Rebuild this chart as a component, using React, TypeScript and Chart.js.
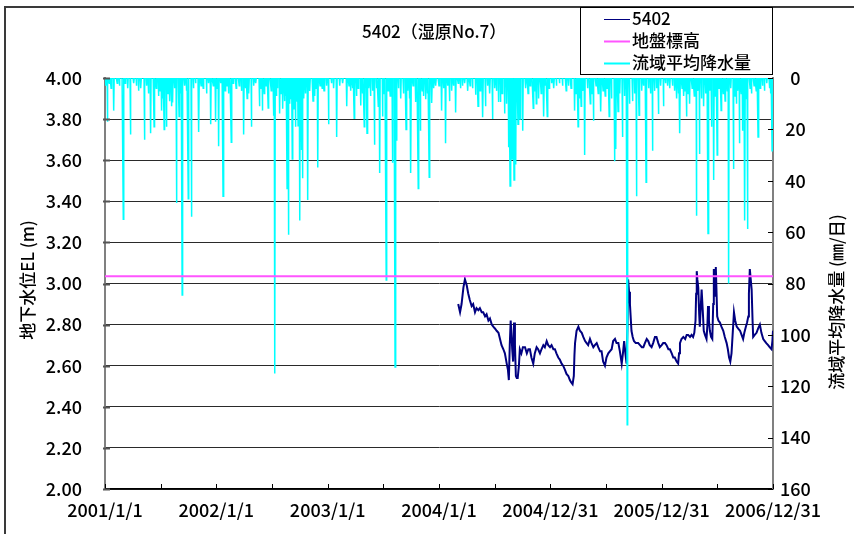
import React, { useEffect, useRef } from "react";
import { Chart, registerables } from "chart.js";

Chart.register(...registerables);

// ---- axis definitions ----
const X_TICK_DAYS = [0, 365, 730, 1095, 1460, 1825, 2190]; // days since 2001/1/1
const X_TICK_LABELS = ["2001/1/1", "2002/1/1", "2003/1/1", "2004/1/1", "2004/12/31", "2005/12/31", "2006/12/31"];
const LEFT_MIN = 2.0;
const LEFT_MAX = 4.0;
const LEFT_STEP = 0.2;
const RIGHT_MIN = 0;
const RIGHT_MAX = 160;
const RIGHT_STEP = 20;

const TITLE = "5402（湿原No.7）";
const LEFT_TITLE = "地下水位EL (m)";
const RIGHT_TITLE = "流域平均降水量 (㎜/日)";
const SERIES_NAMES = ["5402", "地盤標高", "流域平均降水量"];

// ---- ground elevation (地盤標高) ----
const GROUND_LEVEL = 3.035;

// ---- groundwater level 5402 (day since 2001/1/1, EL m) ----
const gwDay = [
  1158, 1164, 1169, 1175, 1180, 1186, 1191, 1196, 1202, 1207, 1213, 1218, 1224, 1229, 1235, 1240, 1246, 1251,
  1257, 1262, 1268, 1273, 1279, 1284, 1290, 1295, 1300, 1306, 1311, 1317, 1321, 1324, 1327, 1330, 1333, 1335,
  1338, 1341, 1344, 1347, 1350, 1353, 1357, 1360, 1365, 1370, 1377, 1383, 1388, 1393, 1398, 1404, 1409, 1415,
  1420, 1426, 1431, 1437, 1442, 1448, 1453, 1459, 1464, 1470, 1475, 1480, 1486, 1491, 1497, 1502, 1508, 1513,
  1519, 1524, 1528, 1533, 1537, 1539, 1541, 1546, 1552, 1557, 1563, 1568, 1574, 1579, 1584, 1590, 1595, 1601,
  1606, 1612, 1617, 1623, 1628, 1633, 1639, 1644, 1650, 1655, 1661, 1666, 1672, 1677, 1683, 1688, 1694, 1698,
  1702, 1706, 1710, 1713, 1715, 1718, 1721, 1726, 1730, 1734, 1740, 1748, 1754, 1760, 1765, 1770, 1776, 1781,
  1786, 1792, 1797, 1803, 1808, 1814, 1819, 1825, 1830, 1836, 1841, 1847, 1852, 1858, 1863, 1868, 1874, 1879,
  1882, 1885, 1890, 1896, 1902, 1907, 1912, 1918, 1923, 1928, 1932, 1936, 1938, 1940, 1942, 1945, 1948, 1950,
  1953, 1956, 1960, 1963, 1967, 1972, 1975, 1977, 1980, 1983, 1987, 1991, 1994, 1996, 1998, 2000, 2002, 2003,
  2005, 2007, 2011, 2016, 2021, 2027, 2032, 2038, 2042, 2046, 2050, 2054, 2058, 2062, 2066, 2071, 2076, 2082,
  2087, 2092, 2096, 2101, 2105, 2109, 2111, 2114, 2117, 2120, 2123, 2125, 2130, 2136, 2141, 2147, 2152, 2158,
  2163, 2168, 2174, 2179, 2185, 2188, 2190,
];
const gwLevel = [
  2.90, 2.86, 2.90, 2.98, 3.02, 2.99, 2.95, 2.92, 2.89, 2.90, 2.86, 2.88, 2.87, 2.88, 2.86, 2.86, 2.84, 2.85,
  2.82, 2.83, 2.80, 2.79, 2.78, 2.77, 2.76, 2.73, 2.70, 2.68, 2.66, 2.61, 2.58, 2.53, 2.70, 2.82, 2.74, 2.68,
  2.62, 2.81, 2.70, 2.55, 2.54, 2.54, 2.60, 2.68, 2.66, 2.69, 2.69, 2.66, 2.68, 2.68, 2.64, 2.61, 2.66, 2.69,
  2.68, 2.66, 2.68, 2.70, 2.69, 2.72, 2.70, 2.69, 2.70, 2.68, 2.68, 2.66, 2.64, 2.63, 2.61, 2.60, 2.58, 2.56,
  2.55, 2.53, 2.52, 2.51, 2.55, 2.65, 2.71, 2.77, 2.79, 2.77, 2.76, 2.74, 2.72, 2.71, 2.70, 2.73, 2.71, 2.69,
  2.70, 2.71, 2.69, 2.67, 2.67, 2.62, 2.60, 2.64, 2.66, 2.67, 2.68, 2.72, 2.73, 2.71, 2.71, 2.67, 2.61, 2.66,
  2.72, 2.66, 2.61, 2.80, 3.02, 2.96, 2.90, 2.77, 2.74, 2.72, 2.71, 2.71, 2.70, 2.69, 2.69, 2.71, 2.73, 2.72,
  2.70, 2.69, 2.71, 2.74, 2.74, 2.71, 2.69, 2.70, 2.71, 2.71, 2.70, 2.68, 2.68, 2.66, 2.64, 2.64, 2.62, 2.61,
  2.66, 2.71, 2.73, 2.74, 2.73, 2.75, 2.75, 2.74, 2.75, 2.74, 2.76, 2.82, 2.95, 3.06, 3.02, 2.98, 2.85, 2.79,
  2.88, 2.97, 2.86, 2.77, 2.75, 2.73, 2.80, 2.89, 2.82, 2.77, 2.74, 2.73, 2.90, 3.07, 2.99, 2.94, 3.02, 3.08,
  2.95, 2.84, 2.82, 2.81, 2.79, 2.77, 2.74, 2.71, 2.68, 2.64, 2.62, 2.66, 2.76, 2.86, 2.82, 2.79, 2.78, 2.77,
  2.75, 2.73, 2.76, 2.79, 2.81, 2.84, 2.95, 3.07, 3.02, 2.97, 2.82, 2.74, 2.75, 2.76, 2.78, 2.80, 2.76, 2.73,
  2.72, 2.71, 2.70, 2.69, 2.68, 2.72, 2.77,
];

// ---- basin average rainfall (day since 2001/1/1, mm/day); unlisted days had no rain ----
const rainDay = [
  3, 8, 14, 20, 29, 40, 48, 60, 66, 75, 84, 95, 103, 110, 118, 129, 137, 142, 150, 161, 168, 176, 181, 186,
  190, 194, 202, 207, 213, 218, 222, 228, 234, 243, 248, 253, 262, 268, 273, 284, 290, 297, 308, 315, 322, 333,
  340, 347,
  355, 363, 368, 373, 380, 387, 394, 400, 405, 414, 420, 430, 440, 448, 455, 460, 466, 472, 480, 488, 495, 507,
  512, 516, 522, 528, 535, 545, 554, 557, 562, 566, 573, 578, 583, 588, 592, 597, 601, 606, 610, 614, 620, 625,
  630, 633, 639, 644, 647, 652, 658, 665, 672, 682, 688, 692, 698, 705, 712, 718,
  727, 733, 742, 750, 760, 770, 780, 793, 800, 806, 812, 817, 825, 830, 839, 845, 850, 859, 865, 870, 878, 883,
  890, 896, 901, 910, 915, 922, 928, 935, 943, 951, 956, 962, 970, 978, 987, 993, 998, 1003, 1010, 1019, 1027,
  1034, 1040, 1045, 1052, 1058, 1063, 1072, 1078, 1085,
  1095, 1104, 1110, 1117, 1124, 1130, 1137, 1142, 1150, 1158, 1165, 1172, 1180, 1190, 1197, 1205, 1215, 1223,
  1230, 1239, 1248, 1255, 1262, 1270, 1278, 1283, 1290, 1297, 1302, 1310, 1317, 1324, 1328, 1335, 1341, 1347,
  1354, 1361, 1370, 1380, 1387, 1394, 1404, 1410, 1414, 1422, 1430, 1439, 1445, 1450, 1456,
  1465, 1472, 1480, 1490, 1500, 1512, 1520, 1528, 1540, 1545, 1551, 1556, 1561, 1567, 1573, 1582, 1591, 1597,
  1602, 1610, 1617, 1626, 1633, 1640, 1646, 1653, 1660, 1670, 1675, 1682, 1688, 1697, 1704, 1712, 1720, 1729,
  1736, 1743, 1751, 1760, 1766, 1774, 1782, 1788, 1795, 1802, 1808, 1815, 1822, 1831,
  1838, 1845, 1852, 1860, 1868, 1875, 1880, 1885, 1892, 1898, 1902, 1907, 1912, 1917, 1925, 1932, 1939, 1944,
  1949, 1955, 1963, 1970, 1977, 1983, 1988, 1996, 2000, 2007, 2013, 2020, 2027, 2033, 2040, 2045, 2052, 2060,
  2066, 2070, 2075, 2080, 2086, 2090, 2098, 2102, 2107, 2115, 2120, 2128, 2135, 2141, 2148, 2155, 2162, 2170,
  2178, 2183, 2187,
];
const rainMm = [
  3, 17, 2, 4, 12.7, 2, 3, 55, 2, 4, 22, 2, 3, 5, 4, 24, 3, 6, 21.5, 19, 4, 7, 5, 12.7,
  8, 20, 19, 6, 9, 11, 9.5, 4, 48.7, 15, 6, 84.5, 3, 5, 47, 54, 4, 2, 21, 3, 4, 6,
  2, 18,
  3, 17, 4, 26.6, 2, 46, 5, 3, 6, 25, 2, 4, 3, 5, 22, 4, 8, 6, 19, 3, 2, 11,
  4, 12.7, 6, 3, 11.7, 5, 14.7, 115, 7, 4, 13.8, 6, 12, 9, 7, 43, 61, 10, 8, 31.5, 12, 19,
  9, 18.6, 55.5, 28, 39, 8, 6, 47.5, 5, 9, 7, 4, 34.8, 3, 4, 5,
  3, 18, 2, 4, 23, 3, 2, 11, 3, 5, 4, 15.7, 7, 4, 10.7, 6, 19, 21.5, 4, 7, 5, 26,
  4, 11, 37, 15, 6, 78.6, 5, 7, 33, 112.5, 24.4, 4, 8, 6, 20, 5, 8, 37, 3, 9.3, 43,
  20.5, 5, 7, 8.3, 6, 38.6, 9.7, 4, 3,
  3, 12.7, 4, 25.4, 3, 9, 5, 3, 13.4, 2, 4, 3, 2, 5, 3, 4, 6.5, 11,
  5, 15.3, 11, 3, 6, 16, 4, 5, 9.3, 9.3, 6, 13.8, 10, 27, 42, 31.5, 39.7, 33.7,
  18, 16, 20.5, 4, 6, 3, 11.8, 5, 10, 8, 6, 15, 3, 15, 4,
  2, 4, 3, 2, 3, 5, 3, 4, 12.7, 6, 19, 8, 11, 5, 30, 4, 10, 6,
  16.6, 3, 6, 13, 5, 7, 4, 15, 8, 32.4, 27.6, 13, 6, 23, 7, 135, 10, 9,
  6, 46, 14.5, 5, 3, 40.6, 4, 6, 28.3, 5, 4, 14, 3, 11,
  2, 3, 4, 3, 5, 8, 6, 21.5, 4, 7, 5, 15, 6, 10, 4, 7, 53.6, 5,
  29.6, 8, 11, 6, 60.5, 5, 19, 39.7, 7, 30, 4, 12.7, 6, 9, 5, 80, 4, 35.4,
  7, 10, 5, 25.4, 6, 20.5, 55.5, 8, 58.8, 4, 6, 3, 5, 23, 4, 3, 5, 2,
  4, 6, 28.3,
];

const PLOT = { left: 105, right: 773, top: 78, bottom: 489 };
const FONT = "'Noto Sans CJK JP', 'Noto Sans', sans-serif";

const decorPlugin = {
  id: "decor",
  beforeDraw(chart: any) {
    const ctx = chart.ctx as CanvasRenderingContext2D;
    ctx.save();
    ctx.fillStyle = "#ffffff";
    ctx.fillRect(0, 0, chart.width, chart.height);
    // outer chart frame
    ctx.strokeStyle = "#3a3a3a";
    ctx.lineWidth = 2;
    ctx.beginPath();
    ctx.moveTo(5, chart.height + 2);
    ctx.lineTo(5, 7);
    ctx.lineTo(chart.width + 2, 7);
    ctx.stroke();
    ctx.restore();
  },
  afterDraw(chart: any) {
    const ctx = chart.ctx as CanvasRenderingContext2D;
    const xs = chart.scales.x;
    const yl = chart.scales.y;
    const yr = chart.scales.y2;
    const area = chart.chartArea;
    ctx.save();
    // tick marks (pointing inward)
    ctx.strokeStyle = "#000";
    ctx.lineWidth = 1;
    ctx.beginPath();
    for (let k = 0; k <= 12; k++) {
      const px = Math.round(xs.getPixelForValue((k * X_TICK_DAYS[X_TICK_DAYS.length - 1]) / 12)) + 0.5;
      ctx.moveTo(px, area.bottom);
      ctx.lineTo(px, area.bottom - 5);
    }
    for (let v = RIGHT_MIN; v <= RIGHT_MAX; v += RIGHT_STEP) {
      const py = Math.round(yr.getPixelForValue(v)) + 0.5;
      ctx.moveTo(area.right, py);
      ctx.lineTo(area.right - 5, py);
    }
    ctx.stroke();
    ctx.strokeStyle = "#555";
    ctx.lineWidth = 2;
    ctx.beginPath();
    for (let i = 0; i <= Math.round((LEFT_MAX - LEFT_MIN) / LEFT_STEP); i++) {
      const py = Math.round(yl.getPixelForValue(LEFT_MIN + i * LEFT_STEP)) + 0.5;
      ctx.moveTo(area.left - 2, py);
      ctx.lineTo(area.left + 5, py);
    }
    ctx.stroke();

    ctx.fillStyle = "#000";
    // title
    ctx.font = `500 17px ${FONT}`;
    ctx.textAlign = "left";
    ctx.textBaseline = "middle";
    ctx.fillText(TITLE, 362, 32);

    // axis titles
    ctx.font = `500 17px ${FONT}`;
    ctx.textAlign = "center";
    ctx.save();
    ctx.translate(28, 280);
    ctx.rotate(-Math.PI / 2);
    ctx.fillText(LEFT_TITLE, 0, 0);
    ctx.restore();
    ctx.save();
    ctx.translate(837, 302);
    ctx.rotate(-Math.PI / 2);
    ctx.fillText(RIGHT_TITLE, 0, 0);
    ctx.restore();

    // legend box
    ctx.fillStyle = "#fff";
    ctx.fillRect(580, 7, 192, 67);
    ctx.strokeStyle = "#000";
    ctx.lineWidth = 1;
    ctx.strokeRect(580.5, 7.5, 192, 67);
    const colors = ["#000080", "#ff55ff", "#00ffff"];
    const rows = [19, 41, 63];
    ctx.font = `500 17px ${FONT}`;
    ctx.textAlign = "left";
    ctx.textBaseline = "middle";
    rows.forEach((ry, i) => {
      ctx.strokeStyle = colors[i];
      ctx.lineWidth = i === 0 ? 1 : 2;
      ctx.beginPath();
      ctx.moveTo(604, ry + 0.5);
      ctx.lineTo(630, ry + 0.5);
      ctx.stroke();
      ctx.fillStyle = "#000";
      ctx.fillText(SERIES_NAMES[i], 632, ry);
    });
    ctx.restore();
  },
};

export default function App() {
  const ref = useRef<HTMLCanvasElement | null>(null);
  useEffect(() => {
    document.body.style.margin = "0";
    const canvas = ref.current;
    if (!canvas) return;

    // daily rainfall table (days not listed = 0 mm)
    const lastDay = X_TICK_DAYS[X_TICK_DAYS.length - 1];
    const rainMap = new Map<number, number>();
    rainDay.forEach((d, i) => rainMap.set(d, rainMm[i]));
    const rainData: { x: number; y: number }[] = [];
    for (let d = 0; d <= lastDay; d++) rainData.push({ x: d, y: rainMap.get(d) ?? 0 });

    const gwData = gwDay.map((d, i) => ({ x: d, y: gwLevel[i] }));
    const groundData = [
      { x: X_TICK_DAYS[0], y: GROUND_LEVEL },
      { x: lastDay, y: GROUND_LEVEL },
    ];

    const tickFont = { family: FONT, size: 18, weight: "500" };

    const chart = new Chart(canvas, {
      type: "line",
      data: {
        datasets: [
          {
            label: SERIES_NAMES[1],
            data: groundData,
            borderColor: "#ff55ff",
            borderWidth: 2,
            pointRadius: 0,
            yAxisID: "y",
          },
          {
            label: SERIES_NAMES[2],
            data: rainData,
            borderColor: "#00ffff",
            borderWidth: 1.5,
            pointRadius: 0,
            yAxisID: "y2",
          },
          {
            label: SERIES_NAMES[0],
            data: gwData,
            borderColor: "#000080",
            borderWidth: 2,
            pointRadius: 0,
            yAxisID: "y",
          },
        ],
      },
      options: {
        responsive: false,
        animation: false,
        devicePixelRatio: 1,
        layout: { padding: { top: PLOT.top, left: 0, right: 0, bottom: 0 } },
        plugins: { legend: { display: false }, tooltip: { enabled: false }, title: { display: false } },
        scales: {
          x: {
            type: "linear",
            min: X_TICK_DAYS[0],
            max: lastDay,
            afterFit: (s: any) => {
              s.height = 534 - PLOT.bottom;
            },
            afterBuildTicks: (s: any) => {
              s.ticks = X_TICK_DAYS.map((v) => ({ value: v }));
            },
            ticks: {
              autoSkip: false,
              maxRotation: 0,
              padding: 10,
              color: "#000",
              font: tickFont,
              callback: (v: any) => {
                const i = X_TICK_DAYS.indexOf(Number(v));
                return i >= 0 ? X_TICK_LABELS[i] : "";
              },
            },
            grid: { drawOnChartArea: false, drawTicks: false },
            border: { color: "#000", width: 1.5 },
          },
          y: {
            position: "left",
            min: LEFT_MIN,
            max: LEFT_MAX,
            afterFit: (s: any) => {
              s.width = PLOT.left;
            },
            ticks: {
              stepSize: LEFT_STEP,
              padding: 23,
              color: "#000",
              font: tickFont,
              callback: (v: any) => Number(v).toFixed(2),
            },
            grid: { color: "#2a2a2a", lineWidth: 1, drawTicks: false },
            border: { color: "#808080", width: 2 },
          },
          y2: {
            position: "right",
            min: RIGHT_MIN,
            max: RIGHT_MAX,
            reverse: true,
            afterFit: (s: any) => {
              s.width = 854 - PLOT.right;
            },
            ticks: {
              stepSize: RIGHT_STEP,
              padding: 7,
              crossAlign: "center",
              color: "#000",
              font: tickFont,
            },
            grid: { drawOnChartArea: false, drawTicks: false },
            border: { color: "#808080", width: 2 },
          },
        },
      },
      plugins: [decorPlugin],
    } as any);
    return () => chart.destroy();
  }, []);

  return (
    <div style={{ width: 854, height: 534 }}>
      <canvas ref={ref} width={854} height={534} style={{ display: "block" }} />
    </div>
  );
}
